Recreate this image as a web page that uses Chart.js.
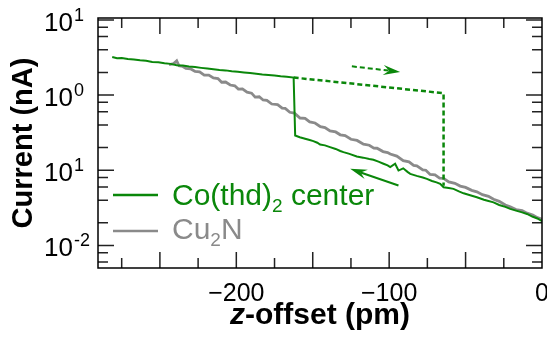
<!DOCTYPE html>
<html>
<head>
<meta charset="utf-8">
<script src="https://cdn.jsdelivr.net/npm/chart.js@4.4.0/dist/chart.umd.min.js"></script>
<style>
  html, body { margin: 0; padding: 0; background: #fff; }
  #wrap { width: 547px; height: 339px; }
</style>
</head>
<body>
<div id="wrap"><canvas id="chart" width="547" height="339"></canvas></div>
<script>
const GREEN = '#0a870a';
const GRAY = '#8a8a8a';
const FONT = '"Liberation Sans", Arial, Helvetica, sans-serif';

// Co(thd)2 center, retract sweep (solid): upper branch, jump at -162 pm, lower branch
const coRetractZ = [
  -281.2, -278, -275, -271, -267, -263, -259, -255, -251, -247, -243, -239, -235, -231,
  -227, -223, -219, -215, -211, -207, -203, -199, -195, -191, -187, -183, -179, -175,
  -171, -167, -162.5,
  -161.5, -158.5, -155, -152, -149.6, -147, -145.2, -142, -138.7, -135, -132, -129.9,
  -126, -121.2, -117, -113, -110.3, -107, -103.7, -101, -99.3, -96.1, -93.9, -90.8,
  -88, -86.2, -82, -78, -75.3, -72, -69, -66.6, -64.4, -61, -57.9, -54, -51.3, -47,
  -42.6, -38, -35, -31.7, -28, -24, -20.8, -17, -13, -9.8, -6, -3, 0
];
const coRetractI = [
  3.21, 3.10, 3.12, 3.02, 2.98, 2.90, 2.86, 2.76, 2.73, 2.65, 2.60, 2.50, 2.47, 2.40,
  2.36, 2.30, 2.25, 2.20, 2.16, 2.13, 2.08, 2.04, 2.00, 1.96, 1.92, 1.88, 1.85, 1.82,
  1.78, 1.75, 1.71,
  0.290, 0.275, 0.262, 0.252, 0.244, 0.232, 0.220, 0.214, 0.203, 0.192, 0.180, 0.174,
  0.165, 0.152, 0.147, 0.141, 0.138, 0.130, 0.122, 0.116, 0.110, 0.122, 0.099, 0.106,
  0.095, 0.0895, 0.084, 0.080, 0.0768, 0.072, 0.069, 0.0659, 0.0593, 0.058, 0.0565, 0.052, 0.0493, 0.0465,
  0.0437, 0.0405, 0.039, 0.0374, 0.0345, 0.0325, 0.0306, 0.0290, 0.0275, 0.0262, 0.0240, 0.0228, 0.0210
];

// Co(thd)2 center, approach sweep (dashed): stays high until -64 pm, then drops
const coApproachZ = [-162.5, -64.4, -64.4];
const coApproachI = [1.71, 1.06, 0.062];

// Cu2N reference
const cuZ = [
  -244, -241, -239, -237.5, -235, -233, -230, -227, -224, -221, -218, -215, -212, -209.6,
  -207, -204, -201, -198.7, -196, -193, -190, -187.7, -185, -182.5, -180, -176.8, -173,
  -170, -168, -165, -162, -158.3, -155, -152, -148.5, -145, -142, -138.7, -135, -132,
  -128.8, -125, -121, -116.8, -113, -110, -107.9, -104, -101, -99.3, -95, -90.8, -87,
  -84, -81.9, -78, -76, -73.2, -70, -67, -64.4, -61, -57, -53.5, -50, -46, -42.6, -39,
  -35, -31.7, -28, -24, -20.8, -17, -13, -9.8, -6, -3, 0
];
const cuI = [
  2.55, 2.62, 2.85, 2.45, 2.40, 2.26, 2.24, 2.06, 2.04, 1.84, 1.84, 1.69, 1.66, 1.48,
  1.49, 1.36, 1.33, 1.20, 1.21, 1.09, 1.06, 0.94, 0.95, 0.86, 0.85, 0.76, 0.745,
  0.67, 0.665, 0.59, 0.575, 0.495, 0.49, 0.44, 0.425, 0.38, 0.37, 0.333, 0.323, 0.296,
  0.289, 0.258, 0.249, 0.222, 0.215, 0.197, 0.196, 0.177, 0.172, 0.164, 0.154, 0.134, 0.129,
  0.116, 0.114, 0.101, 0.100, 0.0880, 0.0865, 0.0785, 0.0780, 0.0700, 0.0670, 0.0615, 0.0590, 0.0540, 0.0515, 0.0472,
  0.0450, 0.0410, 0.0385, 0.0345, 0.0325, 0.0300, 0.0290, 0.0268, 0.0254, 0.0234, 0.0222
];

// axes
const zMin = -290.5, zMax = 0;
const iMin = 0.005, iMax = 10.6;
const xTickValues = [-200, -100, 0];
const xTickLabels = ['\u2212200', '\u2212100', '0'];
const yTickValues = [10, 1, 0.1, 0.01];
const yTickExp = ['1', '0', '1', '-2'];

// sweep direction arrows (data coords: tail -> head)
const arrowDashed = { z0: -124.4, i0: 2.41, z1: -92.8, i1: 2.03 };
const arrowSolid = { z0: -93.9, i0: 0.0625, z1: -125.5, i1: 0.1044 };

const toXY = (zs, is) => zs.map((z, k) => ({ x: z, y: is[k] }));

function drawArrow(ctx, x, y, a, dashed) {
  const px0 = x.getPixelForValue(a.z0), py0 = y.getPixelForValue(a.i0);
  const px1 = x.getPixelForValue(a.z1), py1 = y.getPixelForValue(a.i1);
  const len = Math.hypot(px1 - px0, py1 - py0);
  const ux = (px1 - px0) / len, uy = (py1 - py0) / len;
  const L = 17, W = 5;
  const nx = px1 - ux * L * 0.65, ny = py1 - uy * L * 0.65;
  ctx.save();
  ctx.strokeStyle = GREEN;
  ctx.fillStyle = GREEN;
  ctx.lineWidth = 2;
  ctx.setLineDash(dashed ? [5, 3] : []);
  ctx.beginPath();
  ctx.moveTo(px0, py0);
  ctx.lineTo(nx, ny);
  ctx.stroke();
  ctx.setLineDash([]);
  ctx.beginPath();
  ctx.moveTo(px1, py1);
  ctx.lineTo(px1 - ux * L - uy * W, py1 - uy * L + ux * W);
  ctx.lineTo(nx, ny);
  ctx.lineTo(px1 - ux * L + uy * W, py1 - uy * L - ux * W);
  ctx.closePath();
  ctx.fill();
  ctx.restore();
}

const decor = {
  id: 'decor',
  afterDatasetsDraw(chart) {
    const { ctx, chartArea: a, scales: { x, y } } = chart;
    ctx.save();

    // inward ticks on all four sides
    ctx.strokeStyle = '#222';
    ctx.lineWidth = 1.5;
    const hTick = (py, len) => {
      ctx.beginPath();
      ctx.moveTo(a.left, py); ctx.lineTo(a.left + len, py);
      ctx.moveTo(a.right, py); ctx.lineTo(a.right - len, py);
      ctx.stroke();
    };
    const vTick = (px, len) => {
      ctx.beginPath();
      ctx.moveTo(px, a.top); ctx.lineTo(px, a.top + len);
      ctx.moveTo(px, a.bottom); ctx.lineTo(px, a.bottom - len);
      ctx.stroke();
    };
    for (let e = -3; e <= 1; e++) {
      const dec = Math.pow(10, e);
      if (dec >= iMin && dec <= iMax) hTick(y.getPixelForValue(dec), 16);
      [2, 4, 6, 8].forEach(m => {
        const v = m * dec;
        if (v > iMin && v < iMax) hTick(y.getPixelForValue(v), 10);
      });
    }
    for (let z = -275; z < 0; z += 25) {
      vTick(x.getPixelForValue(z), z % 50 === 0 ? 16 : 10);
    }

    // frame
    ctx.strokeStyle = '#000';
    ctx.lineWidth = 1.5;
    ctx.strokeRect(a.left, a.top, a.right - a.left, a.bottom - a.top);

    // arrows
    drawArrow(ctx, x, y, arrowDashed, true);
    drawArrow(ctx, x, y, arrowSolid, false);

    // x tick labels
    ctx.fillStyle = '#000';
    ctx.font = '25px ' + FONT;
    ctx.textAlign = 'center';
    ctx.textBaseline = 'alphabetic';
    xTickValues.forEach((v, k) => {
      ctx.fillText(xTickLabels[k], x.getPixelForValue(v), 301);
    });

    // y tick labels: 10 with superscript
    ctx.textAlign = 'left';
    yTickValues.forEach((v, k) => {
      const py = y.getPixelForValue(v) + 11;
      ctx.font = '26px ' + FONT;
      ctx.fillText('10', 44, py);
      const w = ctx.measureText('10').width;
      ctx.font = '18px ' + FONT;
      ctx.fillText(yTickExp[k], 44 + w + 1, py - 10);
    });

    // axis titles
    ctx.font = 'bold 29px ' + FONT;
    ctx.textAlign = 'center';
    ctx.save();
    ctx.translate(32, (a.top + a.bottom) / 2);
    ctx.rotate(-Math.PI / 2);
    ctx.fillText('Current (nA)', 0, 0);
    ctx.restore();

    const zPart = 'z', rest = '-offset (pm)';
    ctx.font = 'italic bold 30px ' + FONT;
    const wz = ctx.measureText(zPart).width;
    ctx.font = 'bold 30px ' + FONT;
    const wr = ctx.measureText(rest).width;
    const cx = (a.left + a.right) / 2;
    const sx = cx - (wz + wr) / 2;
    ctx.textAlign = 'left';
    ctx.font = 'italic bold 30px ' + FONT;
    ctx.fillText(zPart, sx, 324);
    ctx.font = 'bold 30px ' + FONT;
    ctx.fillText(rest, sx + wz, 324);

    // legend
    const legend = [
      { color: GREEN, main: ['Co(thd)', '2', ' center'], lineY: 195, baseY: 205 },
      { color: GRAY, main: ['Cu', '2', 'N'], lineY: 231, baseY: 239 }
    ];
    legend.forEach(it => {
      ctx.strokeStyle = it.color;
      ctx.lineWidth = 2.5;
      ctx.beginPath();
      ctx.moveTo(113, it.lineY); ctx.lineTo(158, it.lineY);
      ctx.stroke();
      ctx.fillStyle = it.color;
      let tx = 172;
      ctx.font = '30px ' + FONT;
      ctx.fillText(it.main[0], tx, it.baseY);
      tx += ctx.measureText(it.main[0]).width;
      ctx.font = '19px ' + FONT;
      ctx.fillText(it.main[1], tx, it.baseY + 7);
      tx += ctx.measureText(it.main[1]).width;
      ctx.font = '30px ' + FONT;
      ctx.fillText(it.main[2], tx, it.baseY);
    });

    ctx.restore();
  }
};

new Chart(document.getElementById('chart'), {
  type: 'scatter',
  data: {
    datasets: [
      {
        label: 'Co(thd)2 center',
        data: toXY(coRetractZ, coRetractI),
        showLine: true,
        borderColor: GREEN,
        borderWidth: 2,
        pointRadius: 0,
        order: 1,
      },
      {
        label: 'Co(thd)2 center approach',
        data: toXY(coApproachZ, coApproachI),
        showLine: true,
        borderColor: GREEN,
        borderWidth: 2.5,
        borderDash: [5, 3],
        pointRadius: 0,
        order: 2,
      },
      {
        label: 'Cu2N',
        data: toXY(cuZ, cuI),
        showLine: true,
        borderColor: GRAY,
        borderWidth: 2.8,
        pointRadius: 0,
        order: 3,
      },
    ],
  },
  options: {
    responsive: false,
    animation: false,
    layout: { padding: { left: 98, right: 5, top: 18, bottom: 71 } },
    plugins: { legend: { display: false }, tooltip: { enabled: false } },
    scales: {
      x: { type: 'linear', display: false, min: zMin, max: zMax },
      y: { type: 'logarithmic', display: false, min: iMin, max: iMax },
    },
  },
  plugins: [decor],
});
</script>
</body>
</html>
